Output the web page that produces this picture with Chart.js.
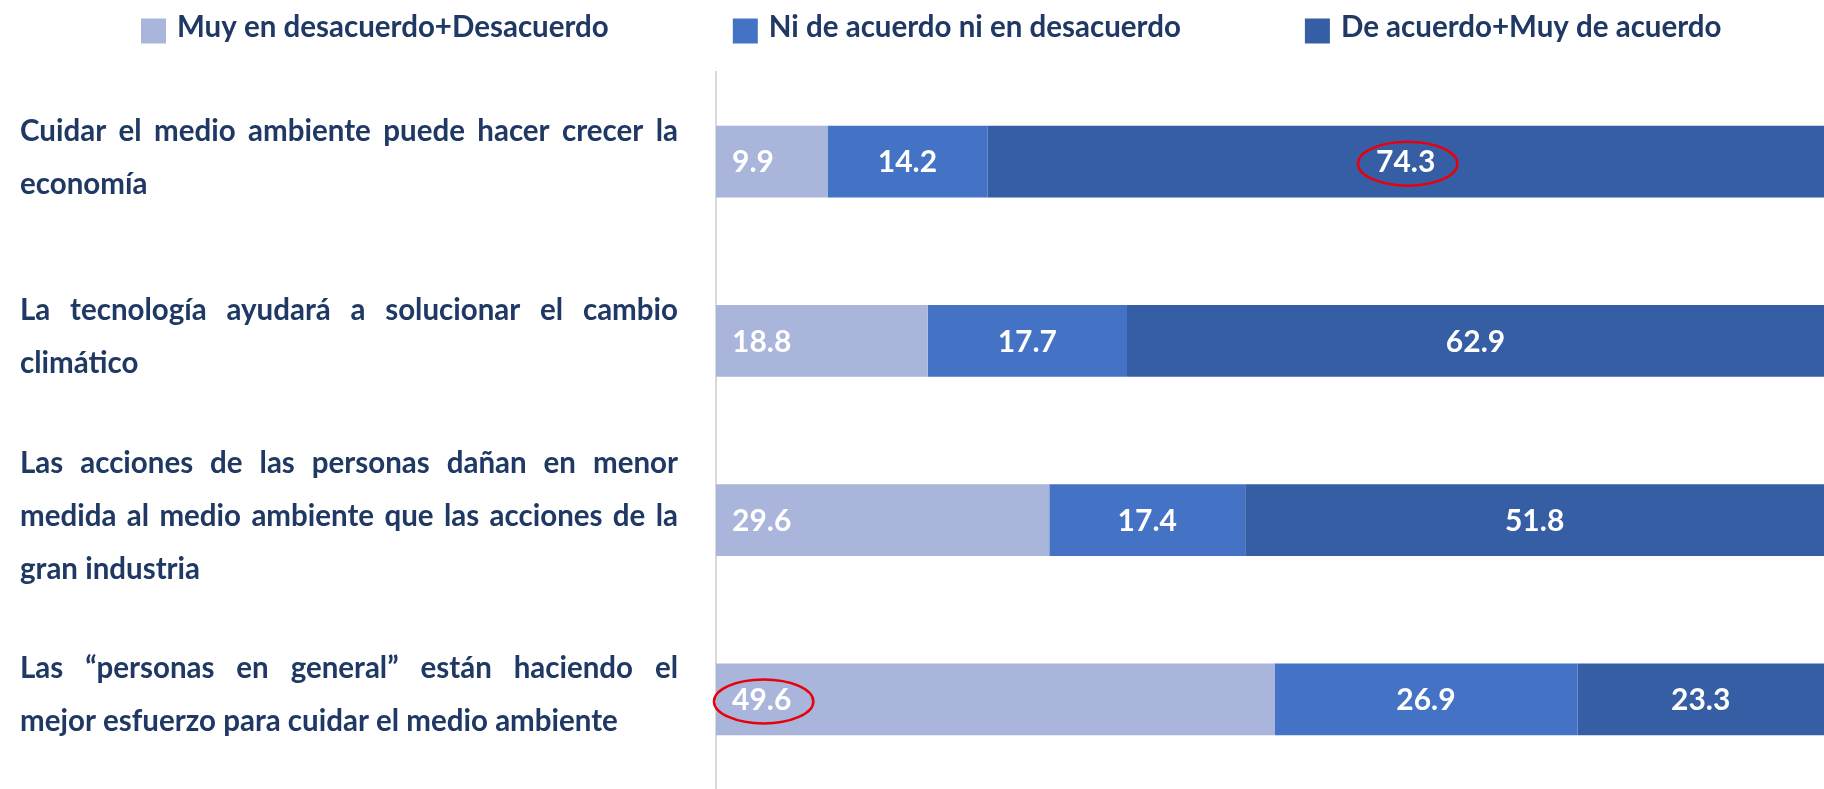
<!DOCTYPE html>
<html>
<head>
<meta charset="utf-8">
<script src="https://cdn.jsdelivr.net/npm/chart.js@4.4.1/dist/chart.umd.min.js"></script>
<style>
  html, body { margin: 0; padding: 0; background: #ffffff; }
</style>
</head>
<body>
<canvas id="chart" width="1824" height="789"></canvas>
<script>
// categories, one line per array entry
var categories = [
    ['Cuidar el medio ambiente puede hacer crecer la', 'economía'],
    ['La tecnología ayudará a solucionar el cambio', 'climático'],
    ['Las acciones de las personas dañan en menor', 'medida al medio ambiente que las acciones de la', 'gran industria'],
    ['Las “personas en general” están haciendo el', 'mejor esfuerzo para cuidar el medio ambiente']
];
var seriesNames = ['Muy en desacuerdo+Desacuerdo', 'Ni de acuerdo ni en desacuerdo', 'De acuerdo+Muy de acuerdo'];
var desacuerdo = [9.9, 18.8, 29.6, 49.6];
var neutral = [14.2, 17.7, 17.4, 26.9];
var acuerdo = [74.3, 62.9, 51.8, 23.3];
// [dataset, category] of the values circled in red
var circled = [[2, 0], [0, 3]];
var xMax = 98.4;

var colors = ['#a9b5da', '#4472c4', '#365ea4'];
var navy = '#1f3864';
var fontFamily = 'Lato, "Open Sans", sans-serif';

// segment values + red ellipses
var segmentLabels = {
    id: 'segmentLabels',
    afterDatasetsDraw: function (chart) {
        var ctx = chart.ctx;
        var area = chart.chartArea;
        ctx.save();
        ctx.font = 'bold 30px ' + fontFamily;
        ctx.fillStyle = '#ffffff';
        ctx.textBaseline = 'middle';
        chart.data.datasets.forEach(function (ds, di) {
            chart.getDatasetMeta(di).data.forEach(function (bar, i) {
                var left = Math.min(bar.x, bar.base);
                var right = Math.min(Math.max(bar.x, bar.base), area.right);
                var text = ds.data[i].toFixed(1);
                var w = ctx.measureText(text).width;
                var cx;
                if (di === 0) {
                    ctx.textAlign = 'left';
                    ctx.fillText(text, left + 16, bar.y + 1);
                    cx = left + 16 + w / 2;
                } else {
                    ctx.textAlign = 'center';
                    cx = (left + right) / 2;
                    ctx.fillText(text, cx, bar.y + 1);
                }
                circled.forEach(function (c) {
                    if (c[0] === di && c[1] === i) {
                        ctx.save();
                        ctx.strokeStyle = '#e8000b';
                        ctx.lineWidth = 2.5;
                        ctx.beginPath();
                        ctx.ellipse(cx + 2, bar.y + 2, w / 2 + 20, 22, 0, 0, Math.PI * 2);
                        ctx.stroke();
                        ctx.restore();
                    }
                });
            });
        });
        ctx.restore();
    }
};

// justified category text on the left, plus the legend on top
var sideText = {
    id: 'sideText',
    afterDraw: function (chart) {
        var ctx = chart.ctx;
        var yScale = chart.scales.y;
        var x0 = 20, x1 = 678, lineH = 53;
        ctx.save();
        ctx.font = 'bold 29.5px ' + fontFamily;
        ctx.fillStyle = navy;
        ctx.textBaseline = 'middle';
        ctx.textAlign = 'left';
        chart.data.labels.forEach(function (lines, i) {
            var yc = yScale.getPixelForValue(i) - 4;
            lines.forEach(function (line, j) {
                var y = yc + (j - (lines.length - 1) / 2) * lineH;
                var words = line.split(' ');
                if (j === lines.length - 1 || words.length < 2) {
                    ctx.fillText(line, x0, y);
                    return;
                }
                var total = 0;
                words.forEach(function (w) { total += ctx.measureText(w).width; });
                var gap = (x1 - x0 - total) / (words.length - 1);
                var x = x0;
                words.forEach(function (w) {
                    ctx.fillText(w, x, y);
                    x += ctx.measureText(w).width + gap;
                });
            });
        });

        // legend
        var x = 141, gapItems = 124, box = 25, yMid = 31;
        chart.data.datasets.forEach(function (ds) {
            ctx.fillStyle = ds.backgroundColor;
            ctx.fillRect(x, yMid - box / 2, box, box);
            ctx.fillStyle = navy;
            ctx.fillText(ds.label, x + box + 11, yMid - 4);
            x += box + 11 + ctx.measureText(ds.label).width + gapItems;
        });
        ctx.restore();
    }
};

var ctx = document.getElementById('chart').getContext('2d');
new Chart(ctx, {
    type: 'bar',
    data: {
        labels: categories,
        datasets: [
            { label: seriesNames[0], data: desacuerdo, backgroundColor: colors[0] },
            { label: seriesNames[1], data: neutral, backgroundColor: colors[1] },
            { label: seriesNames[2], data: acuerdo, backgroundColor: colors[2] }
        ]
    },
    options: {
        indexAxis: 'y',
        responsive: false,
        animation: false,
        layout: { padding: { top: 72, left: 716, right: 0, bottom: 0 } },
        datasets: { bar: { categoryPercentage: 1, barPercentage: 0.4, borderWidth: 0 } },
        scales: {
            x: { stacked: true, display: false, min: 0, max: xMax },
            y: {
                stacked: true,
                grid: { display: false },
                ticks: { display: false },
                border: { display: true, color: '#d9d9d9', width: 2 },
                afterFit: function (scale) { scale.width = 0; }
            }
        },
        plugins: {
            legend: { display: false },
            tooltip: { enabled: false }
        }
    },
    plugins: [segmentLabels, sideText]
});
</script>
</body>
</html>
